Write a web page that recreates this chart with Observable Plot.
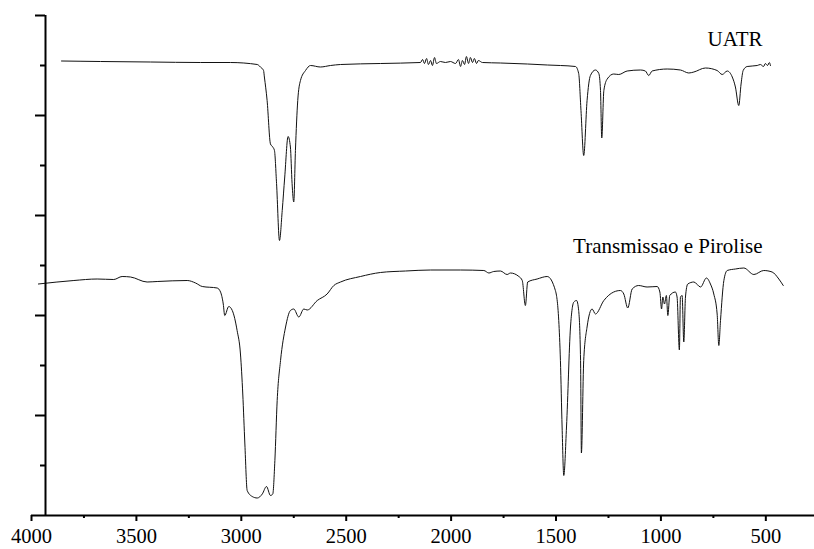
<!DOCTYPE html>
<html>
<head>
<meta charset="utf-8">
<script src="https://cdn.jsdelivr.net/npm/d3@7"></script>
<script src="https://cdn.jsdelivr.net/npm/@observablehq/plot@0.6"></script>
<style>
  html, body { margin: 0; padding: 0; background: #fff; }
  #chart svg, #chart svg text { font-family: "Liberation Serif", "Times New Roman", serif !important; }
</style>
</head>
<body>
<div id="chart"></div>
<script>
// UATR spectrum: wavenumber (cm-1) and relative intensity
const uatrWn = [3857,3671,3433,3195,3052,2924,2909,2894,2890,2877,2861,2850,2842,2832,2818,2805,2793,2777,2766,2758,2750,2742,2731,2718,2694,2670,2623,2575,2527,2337,
  2146,2136,2127,2117,2108,2098,2089,2079,2070,2051,2027,2003,1979,1965,1955,1946,1936,1927,1917,1908,1898,1889,1879,1870,1851,
  1765,1636,1541,1479,1407,1392,1381,1368,1352,1336,1312,1296,1288,1282,1272,1256,1225,1201,1161,1097,1074,1058,1042,970,907,867,843,788,732,708,684,660,645,629,618,608,589,541,526,511,502,492,483,478];
const uatrVal = [90.9,90.8,90.7,90.6,90.6,90.2,89.7,89.0,87.7,83.0,74.3,73.7,73.0,66.4,55.0,61.0,67.7,75.8,73.7,66.4,62.7,73.0,83.0,87.0,89.0,90.0,89.7,90.0,90.2,90.4,
  90.6,91.2,90.4,91.4,90.2,91.0,90.0,91.6,90.4,90.8,90.6,90.8,90.4,91.2,89.8,91.0,90.2,91.8,90.4,91.6,90.6,91.4,90.4,91.0,90.6,
  90.5,90.3,90.1,90.0,89.8,88.4,81.0,72.0,83.0,88.0,89.1,88.4,85.0,75.5,85.0,87.3,88.3,88.2,88.9,89.1,88.9,88.0,88.9,89.3,89.1,88.5,88.7,89.5,89.0,88.2,88.9,87.7,85.7,82.0,86.3,89.0,89.8,90.0,90.2,89.8,90.4,90.0,90.6,90.0];

// Transmission / pyrolysis spectrum
const pyroWn = [3967,3798,3687,3608,3568,3528,3449,3401,3258,3218,3186,3115,3099,3086,3079,3060,3043,3020,3004,2993,2983,2972,2948,2924,2900,2880,2861,2850,2840,2829,2813,2789,2766,2750,2726,2702,2686,2638,2591,2559,2527,2432,2337,2217,2098,1955,
  1844,1820,1797,1765,1733,1717,1677,1661,1646,1635,1590,1542,1503,1487,1479,1471,1463,1450,1431,1415,1402,1392,1383,1379,1368,1352,1328,1312,1272,1225,1193,1177,1158,1137,1106,1066,1018,1005,997,991,983,974,967,958,931,923,912,907,899,891,883,872,843,811,783,764,748,732,724,716,700,684,645,605,557,510,470,438,417];
const pyroVal = [46.3,47.0,47.3,47.2,47.8,47.7,46.7,46.8,47.0,46.5,45.8,45.5,44.7,42.3,40.0,41.8,41.0,37.0,32.3,24.3,14.3,5.0,3.8,3.5,4.3,5.8,4.0,4.3,11.0,23.0,31.0,37.7,41.0,41.3,39.7,41.3,41.1,43.0,44.3,46.0,46.7,47.8,48.6,48.9,49.1,49.1,
  49.0,48.5,48.8,48.9,48.2,48.5,47.8,47.0,42.0,46.7,47.3,47.8,45.0,39.0,31.0,17.7,8.0,17.7,37.7,42.7,43.0,41.0,31.0,12.5,31.0,37.7,41.3,40.3,43.0,44.7,45.0,44.3,41.5,45.3,46.0,45.7,45.8,44.7,41.3,43.7,42.3,44.0,40.0,44.0,44.7,43.7,33.1,43.7,44.0,34.7,43.7,46.3,46.7,45.7,47.5,46.3,44.3,40.3,34.0,39.0,47.0,49.0,49.3,49.5,48.2,49.0,48.7,47.3,46.0];

const xMajorTicks = [4000,3500,3000,2500,2000,1500,1000,500];
const xMinorTicks = [3750,3250,2750,2250,1750,1250,750];
const yMajorTicks = [20,40,60,80,100];
const yMinorTicks = [10,30,50,70,90];

const seriesNames = ["UATR", "Transmissao e Pirolise"];
const labelWn = [516, 516];
const labelVal = [94, 52.5];

const uatr = uatrWn.map((w, i) => ({wn: w, v: uatrVal[i]}));
const pyro = pyroWn.map((w, i) => ({wn: w, v: pyroVal[i]}));
const labels = seriesNames.map((s, i) => ({name: s, wn: labelWn[i], v: labelVal[i]}));

const serif = "'Liberation Serif', 'Times New Roman', serif";

const chart = Plot.plot({
  width: 814,
  height: 549,
  marginLeft: 31,
  marginRight: 0,
  marginTop: 15,
  marginBottom: 34,
  style: {fontFamily: serif, fontSize: "20.5px", color: "#000", background: "#fff"},
  x: {domain: [4000, 268]},
  y: {domain: [0, 100]},
  marks: [
    Plot.line(uatr, {x: "wn", y: "v", stroke: "#111", strokeWidth: 1, curve: "monotone-x"}),
    Plot.line(pyro, {x: "wn", y: "v", stroke: "#111", strokeWidth: 1, curve: "monotone-x"}),
    Plot.text(labels, {x: "wn", y: "v", text: "name", textAnchor: "end", lineAnchor: "bottom", fontSize: 21, fontFamily: serif, fill: "#000"}),
    Plot.axisX({ticks: xMajorTicks, tickSize: 6, tickPadding: 7, fontSize: 20.5, fontFamily: serif, strokeWidth: 2, label: null, tickFormat: d => String(d)}),
    Plot.axisX({ticks: xMinorTicks, tickSize: 3, strokeWidth: 2, label: null, tickFormat: () => ""}),
    Plot.axisY({ticks: yMajorTicks, tickSize: 10, strokeWidth: 2, dx: 14, label: null, tickFormat: () => ""}),
    Plot.axisY({ticks: yMinorTicks, tickSize: 5, strokeWidth: 2, dx: 14, label: null, tickFormat: () => ""}),
    Plot.ruleY([0], {strokeWidth: 2}),
    Plot.ruleX([4000], {dx: 14, strokeWidth: 2})
  ]
});
document.getElementById("chart").appendChild(chart);
</script>
</body>
</html>
